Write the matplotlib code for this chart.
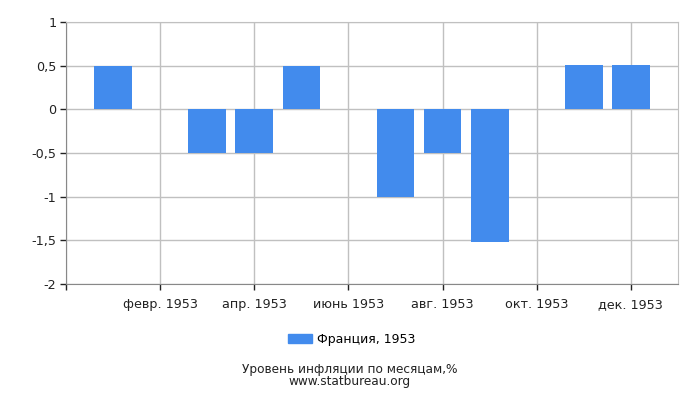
import matplotlib
matplotlib.use("Agg")
import matplotlib.pyplot as plt
from matplotlib.patches import Patch

months = ["янв. 1953", "февр. 1953", "март 1953", "апр. 1953", "май 1953", "июнь 1953",
          "июль 1953", "авг. 1953", "сент. 1953", "окт. 1953", "нояб. 1953", "дек. 1953"]
values = [0.5, 0, -0.5, -0.5, 0.5, 0, -1.0, -0.5, -1.52, 0, 0.51, 0.51]
yticks = [1, 0.5, 0, -0.5, -1, -1.5, -2]
ytick_labels = ["1", "0,5", "0", "-0,5", "-1", "-1,5", "-2"]
series_name = "Франция, 1953"
bar_color = "#428bed"

fig = plt.figure(figsize=(7, 4), dpi=100)
ax = fig.add_axes([66/700, 1 - 284/400, (678-66)/700, (284-22)/400])

x = list(range(len(months)))
ax.bar(x, values, width=0.8, color=bar_color, zorder=2)

ax.set_xlim(-1, 12)
ax.set_ylim(-2, 1)
ax.set_yticks(yticks)
ax.set_yticklabels(ytick_labels)
xt = [-1] + x[1::2]
ax.set_xticks(xt)
ax.set_xticklabels([""] + months[1::2])
ax.grid(True, color="#c0c0c0", linewidth=1, zorder=0)
ax.tick_params(axis="both", labelsize=9.2, colors="#222222", length=4, width=1, pad=3)
ax.tick_params(axis="x", pad=6)
for s in ax.spines.values():
    s.set_color("#c0c0c0")
ax.spines["left"].set_color("#888888")
ax.spines["bottom"].set_color("#888888")

fig.legend(handles=[Patch(color=bar_color, label=series_name)], loc="center",
           bbox_to_anchor=(352/700, 1 - 339/400), frameon=False, fontsize=9,
           handlelength=1.9, handleheight=0.7, handletextpad=0.4)
fig.text(0.5, 1 - 369/400, "Уровень инфляции по месяцам,%", ha="center", va="center",
         fontsize=8.7, color="#222222")
fig.text(0.5, 1 - 382/400, "www.statbureau.org", ha="center", va="center",
         fontsize=8.7, color="#222222")

fig.savefig("out.png", dpi=100)
